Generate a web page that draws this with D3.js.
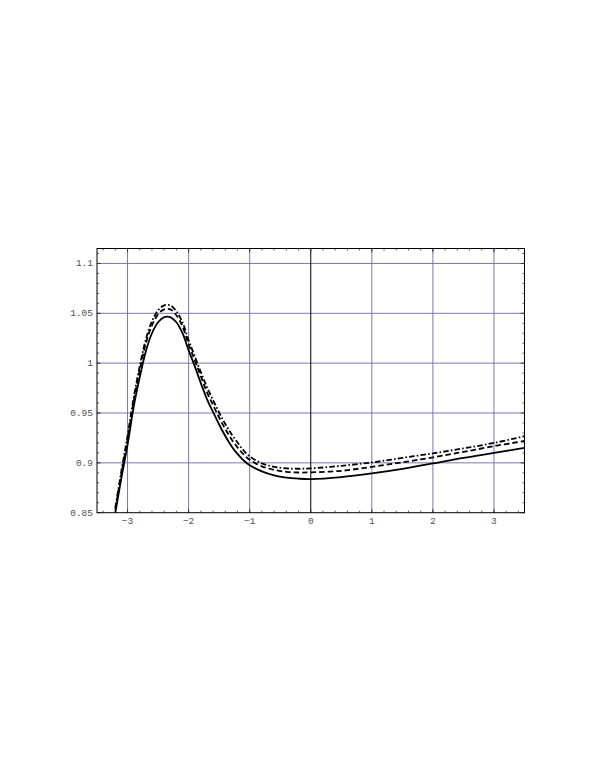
<!doctype html>
<meta charset="utf-8">
<style>
  body { margin: 0; background: #fff; }
  text { font-family: "Liberation Mono", "Courier New", monospace; font-size: 9.5px; fill: #505050; }
</style>
<body>
<script src="https://d3js.org/d3.v7.min.js"></script>
<script>
// x positions shared by all three curves
var xs = [-3.2, -3.1, -3.0, -2.9, -2.8, -2.7, -2.6, -2.5, -2.4, -2.3, -2.2, -2.1,
          -2.0, -1.9, -1.8, -1.7, -1.6, -1.5, -1.4, -1.3, -1.2, -1.1, -1.0,
          -0.8, -0.6, -0.4, -0.2, 0, 0.5, 1, 1.5, 2, 2.5, 3, 3.5];

// solid curve (lowest)
var solid = [0.850, 0.885, 0.918, 0.956, 0.986, 1.012, 1.030, 1.041, 1.0462, 1.0462, 1.041, 1.030,
             1.013, 0.997, 0.980, 0.964, 0.951, 0.9385, 0.927, 0.917, 0.909, 0.9025, 0.8975,
             0.8915, 0.8875, 0.8852, 0.8841, 0.8837, 0.8857, 0.8894, 0.894, 0.8994, 0.905, 0.910, 0.915];

// dashed curve (middle)
var dashed = [0.853, 0.889, 0.923, 0.961, 0.993, 1.020, 1.038, 1.049, 1.0540, 1.0540, 1.048, 1.037,
              1.019, 1.003, 0.987, 0.971, 0.958, 0.9455, 0.934, 0.924, 0.9155, 0.9085, 0.903,
              0.8965, 0.893, 0.891, 0.8903, 0.8905, 0.892, 0.896, 0.9005, 0.9055, 0.911, 0.9167, 0.922];

// dash-dot curve (top)
var dashdot = [0.855, 0.892, 0.927, 0.965, 0.997, 1.024, 1.042, 1.053, 1.0580, 1.0580, 1.052, 1.041,
               1.023, 1.007, 0.991, 0.976, 0.963, 0.9505, 0.939, 0.929, 0.9205, 0.9125, 0.9065,
               0.8995, 0.896, 0.8945, 0.8941, 0.8944, 0.897, 0.9004, 0.905, 0.9095, 0.9145, 0.920, 0.9267];

var xTicks = [-3, -2, -1, 0, 1, 2, 3];
var yTicks = [0.85, 0.9, 0.95, 1, 1.05, 1.1];
var yLabels = ['0.85', '0.9', '0.95', '1', '1.05', '1.1'];

var W = 595, H = 770,
    x0 = 97, x1 = 524.5, y0 = 248.5, y1 = 512.7; // frame edges

var svg = d3.select('body').append('svg').attr('width', W).attr('height', H);

var x = d3.scaleLinear().domain([-3.5, 3.5]).range([x0, x1]);
var y = d3.scaleLinear().domain([0.85, 1.115]).range([y1, y0]);

svg.append('clipPath').attr('id', 'clip')
  .append('rect').attr('x', x0).attr('y', y0).attr('width', x1 - x0).attr('height', y1 - y0);

// grid
var grid = svg.append('g').attr('stroke', '#6a6aaa').attr('stroke-width', 0.9);
grid.selectAll(null).data(xTicks.filter(function(d){return d !== 0;})).enter().append('line')
  .attr('x1', function(d){return x(d);}).attr('x2', function(d){return x(d);})
  .attr('y1', y0).attr('y2', y1);
grid.selectAll(null).data(yTicks.slice(1)).enter().append('line')
  .attr('x1', x0).attr('x2', x1)
  .attr('y1', function(d){return y(d);}).attr('y2', function(d){return y(d);});

// y axis line at x = 0
svg.append('line').attr('x1', x(0)).attr('x2', x(0)).attr('y1', y0).attr('y2', y1)
  .attr('stroke', '#000').attr('stroke-width', 1);

// ticks on all four sides, pointing inward
var xMinor = d3.range(-3.4, 3.5001, 0.2).map(function(v){return Math.round(v * 10) / 10;});
var yMinor = d3.range(0.86, 1.1151, 0.01).map(function(v){return Math.round(v * 100) / 100;});
var tk = svg.append('g').attr('stroke', '#333').attr('stroke-width', 0.8);
function vTicks(vals, len){
  tk.selectAll(null).data(vals).enter().append('line')
    .attr('x1', function(d){return x(d);}).attr('x2', function(d){return x(d);})
    .attr('y1', y1).attr('y2', y1 - len);
  tk.selectAll(null).data(vals).enter().append('line')
    .attr('x1', function(d){return x(d);}).attr('x2', function(d){return x(d);})
    .attr('y1', y0).attr('y2', y0 + len);
}
function hTicks(vals, len){
  tk.selectAll(null).data(vals).enter().append('line')
    .attr('y1', function(d){return y(d);}).attr('y2', function(d){return y(d);})
    .attr('x1', x0).attr('x2', x0 + len);
  tk.selectAll(null).data(vals).enter().append('line')
    .attr('y1', function(d){return y(d);}).attr('y2', function(d){return y(d);})
    .attr('x1', x1).attr('x2', x1 - len);
}
vTicks(xMinor, 2);
vTicks(xTicks, 4);
hTicks(yMinor, 2);
hTicks(yTicks, 4);

// frame
svg.append('rect').attr('x', x0).attr('y', y0).attr('width', x1 - x0).attr('height', y1 - y0)
  .attr('fill', 'none').attr('stroke', '#000').attr('stroke-width', 1);

// tick labels
svg.selectAll('text.x').data(xTicks).enter().append('text')
  .attr('class', 'x')
  .attr('x', function(d){return x(d);}).attr('y', y1 + 11)
  .attr('text-anchor', 'middle')
  .text(function(d){return d < 0 ? '\u2212' + (-d) : String(d);});
svg.selectAll('text.y').data(yTicks).enter().append('text')
  .attr('class', 'y')
  .attr('x', x0 - 4).attr('y', function(d){return y(d) + 3;})
  .attr('text-anchor', 'end')
  .text(function(d, i){return yLabels[i];});

// curves
var line = d3.line()
  .x(function(d){return x(d[0]);})
  .y(function(d){return y(d[1]);})
  .curve(d3.curveCatmullRom);

var series = [
  {vals: solid, dash: null},
  {vals: dashed, dash: '5.5,3'},
  {vals: dashdot, dash: '5.5,2.2,1.6,2.2'}
];
svg.append('g').attr('clip-path', 'url(#clip)')
  .selectAll('path').data(series).enter().append('path')
    .attr('d', function(s){return line(xs.map(function(v, i){return [v, s.vals[i]];}));})
    .attr('fill', 'none')
    .attr('stroke', '#000')
    .attr('stroke-width', 1.8)
    .attr('stroke-dasharray', function(s){return s.dash;});
</script>
</body>
